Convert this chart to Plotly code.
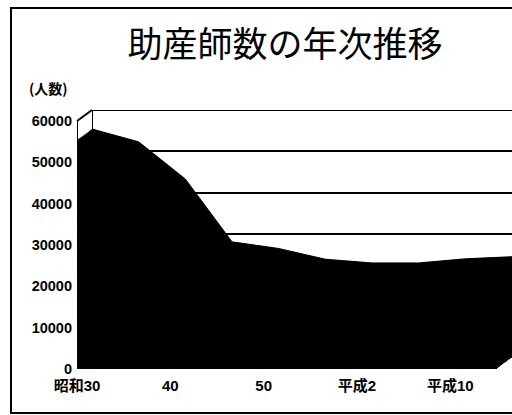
import plotly.graph_objects as go

# Number of midwives by survey year
categories = ["昭和30", "昭和35", "昭和40", "昭和45", "昭和50",
              "昭和60", "平成2", "平成6", "平成10", "平成12"]
midwives = [55400, 52300, 43300, 28100, 26500, 23900, 23000, 23000, 24000, 24500]

tick_categories = ["昭和30", "昭和40", "昭和50", "平成2", "平成10"]
tick_labels = ["昭和30", "40", "50", "平成2", "平成10"]
y_ticks = [0, 10000, 20000, 30000, 40000, 50000, 60000]

W, H = 512, 415

# Front plane of the 3-D box (pixels) and the depth offset of the back wall
FRONT_LEFT, FRONT_RIGHT = 77, 497
FRONT_BOTTOM, FRONT_TOP = 369, 121
DEPTH_DX, DEPTH_DY = 15, 11
N_LAYERS = 14          # slices used to extrude the area into a slab
Y_MAX = 60000

JP_FONT = "Noto Sans CJK JP"
NUM_FONT = "Liberation Sans, Noto Sans CJK JP"

fig = go.Figure()
layout = {}


def axis_names(i):
    return ("x" if i == 1 else f"x{i}"), ("y" if i == 1 else f"y{i}")


# Slice 0 is the back face, slice N_LAYERS the front face
for k in range(N_LAYERS + 1):
    i = k + 1
    t = 1 - k / N_LAYERS
    xa, ya = axis_names(i)
    left = FRONT_LEFT + t * DEPTH_DX
    right = FRONT_RIGHT + t * DEPTH_DX
    bottom = FRONT_BOTTOM - t * DEPTH_DY
    top = FRONT_TOP - t * DEPTH_DY
    is_back = k == 0
    is_front = k == N_LAYERS

    fig.add_trace(go.Scatter(
        x=categories, y=midwives, xaxis=xa, yaxis=ya,
        mode="lines", line=dict(color="black", width=1),
        fill="tozeroy", fillcolor="black",
        hoverinfo="skip", showlegend=False,
    ))

    xkey = "xaxis" if i == 1 else f"xaxis{i}"
    ykey = "yaxis" if i == 1 else f"yaxis{i}"
    xaxis = dict(
        type="category", domain=[left / W, right / W], range=[0, len(categories) - 1],
        anchor=ya, showgrid=False, zeroline=False, showline=False,
        visible=is_front, fixedrange=True, automargin=False,
    )
    yaxis = dict(
        domain=[(H - bottom) / H, (H - top) / H], range=[0, Y_MAX],
        anchor=xa, zeroline=False, showline=False, showgrid=False,
        visible=is_front or is_back, fixedrange=True, automargin=False,
        tickvals=y_ticks, showticklabels=False, ticks="",
    )
    if is_front:
        xaxis.update(
            tickmode="array", tickvals=tick_categories, ticktext=tick_labels,
            ticks="", ticklabelstandoff=6,
            tickfont=dict(family=NUM_FONT, size=15, color="black", weight="bold"),
        )
        yaxis.update(
            showticklabels=True, tickformat="d", ticklabelstandoff=4,
            tickfont=dict(family=NUM_FONT, size=14.5, color="black", weight="bold"),
        )
    if is_back:
        # gridlines on the back wall
        yaxis.update(showgrid=True, gridcolor="black", gridwidth=2)
    layout[xkey] = xaxis
    layout[ykey] = yaxis

front_x, front_y = axis_names(N_LAYERS + 1)
back_x, back_y = axis_names(1)

shapes = [
    # outer frame
    dict(type="rect", xref="paper", yref="paper",
         x0=11 / W, x1=1.2, y0=2 / H, y1=1 - 8 / H,
         line=dict(color="black", width=2), layer="below"),
    # top edge of the back wall
    dict(type="line", xref=back_x, yref=back_y,
         x0=categories[0], x1=categories[-1], y0=Y_MAX, y1=Y_MAX,
         line=dict(color="black", width=2), layer="below"),
    # vertical edges of the left wall
    dict(type="line", xref=front_x, yref=front_y,
         x0=categories[0], x1=categories[0], y0=0, y1=Y_MAX,
         line=dict(color="black", width=2)),
    dict(type="line", xref=back_x, yref=back_y,
         x0=categories[0], x1=categories[0], y0=0, y1=Y_MAX,
         line=dict(color="black", width=2)),
    # top edge of the left wall
    dict(type="line", xref="paper", yref="paper",
         x0=FRONT_LEFT / W, y0=(H - FRONT_TOP) / H,
         x1=(FRONT_LEFT + DEPTH_DX) / W, y1=(H - FRONT_TOP + DEPTH_DY) / H,
         line=dict(color="black", width=2)),
]

fig.update_layout(
    **layout,
    width=W, height=H,
    margin=dict(l=0, r=0, t=0, b=0, autoexpand=False),
    paper_bgcolor="white", plot_bgcolor="rgba(0,0,0,0)",
    title=dict(text="助産師数の年次推移", x=285 / W, xanchor="center",
               y=1 - 45 / H, yanchor="middle", automargin=False,
               font=dict(family=JP_FONT, size=35, color="black")),
    annotations=[dict(text="(人数)", xref="paper", yref="paper",
                      x=27 / W, y=1 - 88 / H, xanchor="left", yanchor="middle",
                      showarrow=False,
                      font=dict(family=JP_FONT, size=14, color="black", weight="bold"))],
    shapes=shapes,
    showlegend=False,
)

fig.write_html("out.html")
